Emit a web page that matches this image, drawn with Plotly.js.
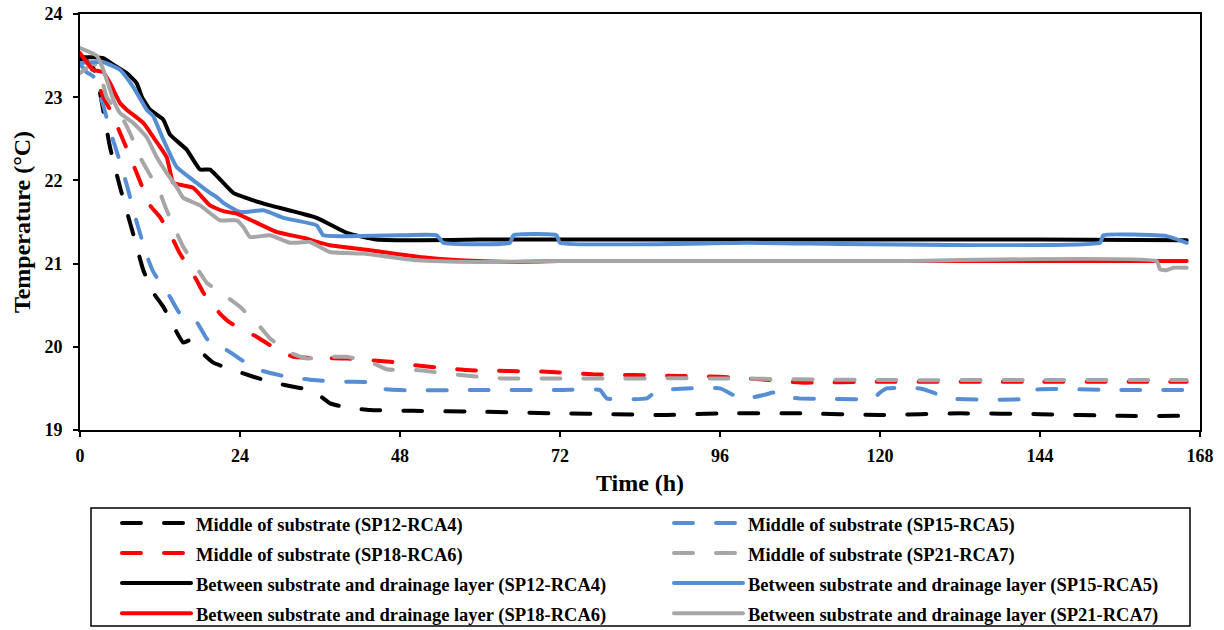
<!DOCTYPE html>
<html>
<head>
<meta charset="utf-8">
<script src="https://cdn.plot.ly/plotly-3.0.1.min.js"></script>
<style>
html,body{margin:0;padding:0;background:#fff;}
#chart{width:1224px;height:630px;}
#chart path.js-line{stroke-linecap:round;stroke-linejoin:round;}
</style>
</head>
<body>
<div id="chart"></div>
<script>
// Series names
const seriesNames = [
  "Middle of substrate (SP12-RCA4)",
  "Middle of substrate (SP15-RCA5)",
  "Middle of substrate (SP18-RCA6)",
  "Middle of substrate (SP21-RCA7)",
  "Between substrate and drainage layer (SP12-RCA4)",
  "Between substrate and drainage layer (SP15-RCA5)",
  "Between substrate and drainage layer (SP18-RCA6)",
  "Between substrate and drainage layer (SP21-RCA7)"
];
const seriesColors = ["#000000", "#558ED5", "#FF0000", "#A6A6A6", "#000000", "#558ED5", "#FF0000", "#A6A6A6"];
const seriesDash = ["19px,23px", "19px,23px", "19px,23px", "19px,23px", "solid", "solid", "solid", "solid"];
const seriesLegend = ["legend", "legend2", "legend", "legend2", "legend", "legend2", "legend", "legend2"];

// Middle of substrate (SP12-RCA4)
const mid12Time = [0,1,2,3,4.5,6,8,9.5,11,12.5,14,15.5,16.5,18,20,23,26,29,32,35,37.5,40,43.5,50,60,72,80,88,96,108,120,132,144,156,166];
const mid12Temp = [23.45,23.42,23.35,23.05,22.4,21.92,21.35,20.92,20.65,20.48,20.25,20.05,20.08,19.95,19.81,19.72,19.64,19.57,19.52,19.47,19.32,19.27,19.24,19.23,19.22,19.2,19.19,19.18,19.2,19.2,19.18,19.2,19.19,19.17,19.17];

// Middle of substrate (SP15-RCA5)
const mid15Time = [0,1,2,3.5,4.5,5.5,7,8.5,10,11,13.5,15,16.5,17.5,19,20.5,22,25,27,31,35,40,44,45,48,60,72,78,79,85,86.5,91,96,98,100,103,104,105,108,119,120,121,126,128,130,142,143,155,166];
const mid15Temp = [23.4,23.3,23.25,22.9,22.6,22.35,21.95,21.5,21.1,20.9,20.6,20.4,20.38,20.3,20.1,19.98,19.96,19.8,19.72,19.64,19.6,19.58,19.57,19.5,19.48,19.48,19.48,19.48,19.38,19.38,19.47,19.5,19.5,19.42,19.38,19.43,19.45,19.4,19.38,19.38,19.45,19.5,19.5,19.45,19.38,19.38,19.48,19.48,19.48];

// Middle of substrate (SP18-RCA6)
const mid18Time = [0,1,2,3.5,4.5,6.5,8.5,10.5,12,14,15,17.5,18.5,21,22.5,26.5,28.5,32,40,46.5,50,58,64,70,77,83,90,96,102,108,120,144,166];
const mid18Temp = [23.5,23.45,23.3,23.0,22.85,22.48,22.09,21.7,21.56,21.28,21.12,20.8,20.65,20.4,20.29,20.12,20.02,19.88,19.86,19.82,19.78,19.72,19.71,19.7,19.67,19.66,19.65,19.64,19.61,19.57,19.58,19.58,19.58];

// Middle of substrate (SP21-RCA7)
const mid21Time = [0,1,2,3,4,6.5,7.5,9,12,13,14.5,15.5,18,19,22,24,27,28.5,31.5,34,37.5,40,43.5,46,50.5,57,63.5,72,96,120,144,166];
const mid21Temp = [23.29,23.35,23.41,23.3,23.0,22.73,22.57,22.28,21.85,21.64,21.37,21.2,20.89,20.77,20.6,20.48,20.24,20.1,19.93,19.86,19.88,19.88,19.82,19.73,19.72,19.66,19.62,19.62,19.62,19.6,19.6,19.6];

// Between substrate and drainage layer (SP12-RCA4)
const btw12Time = [0,2,3.5,5,7,8.5,9.3,10.5,12.5,13.5,16,18,19.5,23,26,28.5,35.5,40,44.5,51,60,72,96,120,144,166];
const btw12Temp = [23.48,23.48,23.47,23.39,23.29,23.17,23.0,22.85,22.73,22.55,22.37,22.13,22.13,21.85,21.76,21.7,21.55,21.37,21.29,21.28,21.29,21.29,21.29,21.29,21.29,21.28];

// Between substrate and drainage layer (SP15-RCA5)
const btw15Time = [0,3.5,6,8,10,11,12.5,14.5,17.5,19.5,20.5,21.5,24,27.5,30.5,35.5,36.5,40,48,53.5,54.5,64.5,65,71.5,72,100,153,153.5,163,166];
const btw15Temp = [23.41,23.42,23.33,23.12,22.85,22.77,22.49,22.16,21.97,21.85,21.8,21.73,21.62,21.64,21.55,21.46,21.34,21.33,21.34,21.34,21.25,21.25,21.34,21.34,21.25,21.25,21.25,21.34,21.33,21.25];

// Between substrate and drainage layer (SP18-RCA6)
const btw18Time = [0,2,3.5,4.5,6,7,9.5,11,13,14,15.5,17,19.5,21.5,23.5,26.5,29.5,33.5,37.5,43.5,51,57,65,72,96,120,144,166];
const btw18Temp = [23.53,23.33,23.3,23.17,22.93,22.85,22.69,22.52,22.28,21.97,21.94,21.91,21.7,21.63,21.6,21.49,21.38,21.31,21.22,21.16,21.08,21.04,21.02,21.03,21.03,21.03,21.03,21.03];

// Between substrate and drainage layer (SP21-RCA7)
const btw21Time = [0,2.5,3.5,5,6,8,10,11.5,13,14.5,15.5,18,21,23.5,24.5,25.5,28.5,31.5,34.5,37.5,42.5,50.5,60,72,120,161.5,162,163,164,166];
const btw21Temp = [23.59,23.5,23.33,22.97,22.81,22.69,22.52,22.28,22.09,21.92,21.79,21.7,21.52,21.52,21.44,21.32,21.34,21.25,21.26,21.14,21.12,21.04,21.02,21.03,21.03,21.03,20.93,20.92,20.95,20.95];

const xTicks = [0,24,48,72,96,120,144,168];
const yTicks = [19,20,21,22,23,24];

const seriesTime = [mid12Time, mid15Time, mid18Time, mid21Time, btw12Time, btw15Time, btw18Time, btw21Time];
const seriesTemp = [mid12Temp, mid15Temp, mid18Temp, mid21Temp, btw12Temp, btw15Temp, btw18Temp, btw21Temp];

const FONT = "'Liberation Serif', 'Times New Roman', serif";

const traces = seriesNames.map((name, i) => ({
  type: "scatter",
  mode: "lines",
  name: '<span style="font-size:18.5px">' + name + '</span>',
  legend: seriesLegend[i],
  x: seriesTime[i],
  y: seriesTemp[i],
  line: {color: seriesColors[i], width: 4, dash: seriesDash[i], shape: "spline", smoothing: 0.4}
}));

const legendCommon = {
  orientation: "v",
  xref: "paper",
  yref: "container",
  xanchor: "left",
  yanchor: "top",
  y: 1 - 503 / 630,
  borderwidth: 0,
  bgcolor: "rgba(0,0,0,0)",
  itemwidth: 69,
  font: {family: FONT, size: 20.8, color: "#000000", weight: "bold"},
  traceorder: "normal"
};

const axisCommon = {
  showgrid: false,
  zeroline: false,
  showline: true,
  linecolor: "#000000",
  linewidth: 2,
  mirror: true,
  ticks: "outside",
  ticklen: 5,
  tickwidth: 2,
  tickcolor: "#000000",
  tickfont: {family: FONT, size: 18, color: "#000000", weight: "bold"}
};

const layout = {
  width: 1224,
  height: 630,
  margin: {l: 80, r: 24, t: 14, b: 200},
  paper_bgcolor: "#ffffff",
  plot_bgcolor: "#ffffff",
  font: {family: FONT, size: 18, color: "#000000"},
  showlegend: true,
  xaxis: Object.assign({}, axisCommon, {
    range: [0, 168],
    tickvals: xTicks,
    ticktext: xTicks.map(String),
    ticklabelstandoff: 3,
    title: {text: "<b>Time (h)</b>", font: {family: FONT, size: 24, color: "#000000"}, standoff: 10}
  }),
  yaxis: Object.assign({}, axisCommon, {
    range: [19, 24],
    tickvals: yTicks,
    ticktext: yTicks.map(String),
    ticklabelstandoff: 7,
    title: {text: "<b>Temperature (°C)</b>", font: {family: FONT, size: 24, color: "#000000"}, standoff: 7}
  }),
  legend: Object.assign({}, legendCommon, {x: (117 - 80) / 1120}),
  legend2: Object.assign({}, legendCommon, {x: (669 - 80) / 1120}),
  shapes: [{
    type: "rect",
    xref: "paper",
    yref: "paper",
    x0: (91 - 80) / 1120,
    x1: (1190 - 80) / 1120,
    y0: (430 - 508) / 416,
    y1: (430 - 626) / 416,
    line: {color: "#000000", width: 1.5},
    fillcolor: "rgba(0,0,0,0)",
    layer: "below"
  }]
};

Plotly.newPlot("chart", traces, layout, {displayModeBar: false, staticPlot: true});
</script>
</body>
</html>
